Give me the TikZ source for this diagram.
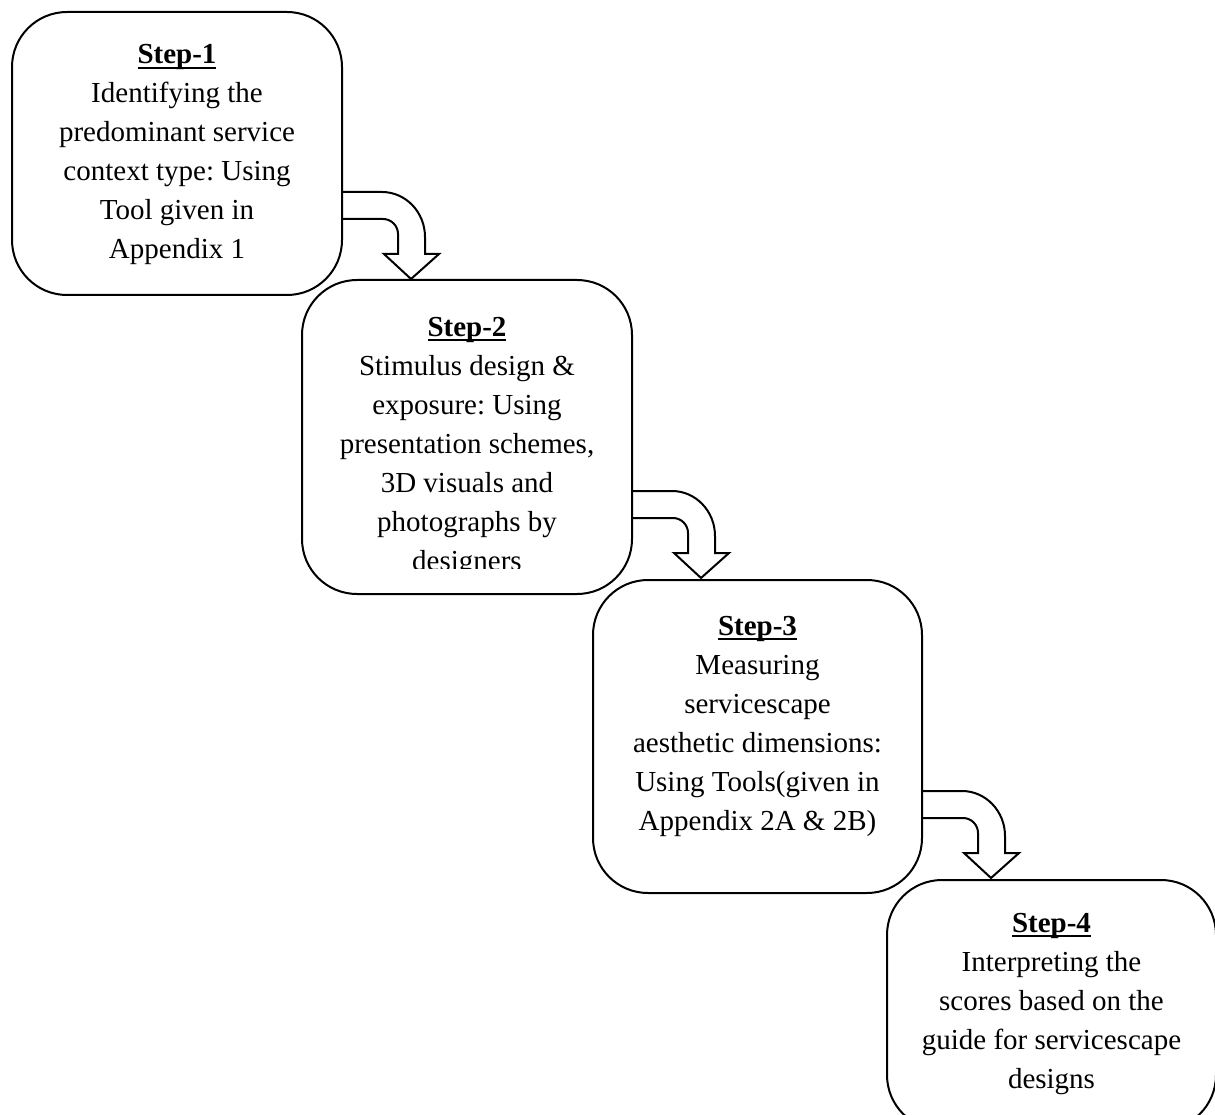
\documentclass[tikz,border=0pt]{standalone}
\usepackage{fontspec}
\setmainfont{Liberation Serif}
\usetikzlibrary{calc}
\frenchspacing
\tikzset{
  stepbox/.style={draw, line width=2pt, rounded corners=55pt, inner sep=0pt},
  steptext/.style={align=center, inner sep=0pt, anchor=north, font=\fontsize{29pt}{39pt}\selectfont\frenchspacing},
  turnarrow/.pic={
    \draw[line width=2pt] (0,0) -- (39,0)
      arc[start angle=90, end angle=0, x radius=43pt, y radius=45pt]
      -- (82,-62) -- (96,-62) -- (68,-87) -- (41,-62) -- (55,-62) -- (55,-42)
      arc[start angle=0, end angle=90, radius=15pt]
      -- (0,-27);
  }
}
\newcommand{\steptitle}[1]{\setbox0\hbox{\bfseries #1}\rlap{\rule[-4.6pt]{\wd0}{1.8pt}}\box0}
\begin{document}
\begin{tikzpicture}[x=1pt, y=1pt]
\useasboundingbox (0,0) rectangle (1215,-1115);
\clip (0,0) rectangle (1215,-1115);

\node[stepbox, minimum width=330pt, minimum height=283pt] (b1) at (177,-153.5) {};
\node[steptext] (t1) at ($(b1.north)+(0,-33.5)$)
  {\steptitle{Step-1}\\Identifying the\\predominant service\\context type: Using\\Tool given in\\Appendix 1};

\node[stepbox, minimum width=330pt, minimum height=314pt] (b2) at (467,-437) {};
\begin{scope}
  \clip (b2.north west) rectangle ($(b2.south east)+(0,27)$);
  \node[steptext] (t2) at ($(b2.north)+(0,-38)$)
    {\steptitle{Step-2}\\Stimulus design \&\\exposure: Using\\presentation schemes,\\3D visuals and\\photographs by\\designers};
\end{scope}

\node[stepbox, minimum width=329pt, minimum height=313pt] (b3) at (757.5,-736.5) {};
\node[steptext] (t3) at ($(b3.north)+(0,-37)$)
  {\steptitle{Step-3}\\Measuring\\servicescape\\aesthetic dimensions:\\Using Tools(given in\\Appendix 2A \& 2B)};

\node[stepbox, minimum width=329pt, minimum height=250pt] (b4) at (1051.5,-1005) {};
\node[steptext] (t4) at ($(b4.north)+(0,-34)$)
  {\steptitle{Step-4}\\Interpreting the\\scores based on the\\guide for servicescape\\designs};

\pic (a1) at ($(b1.north east)+(0,-181)$) {turnarrow};
\pic (a2) at ($(b2.north east)+(0,-212)$) {turnarrow};
\pic (a3) at ($(b3.north east)+(0,-212)$) {turnarrow};
\end{tikzpicture}
\end{document}
